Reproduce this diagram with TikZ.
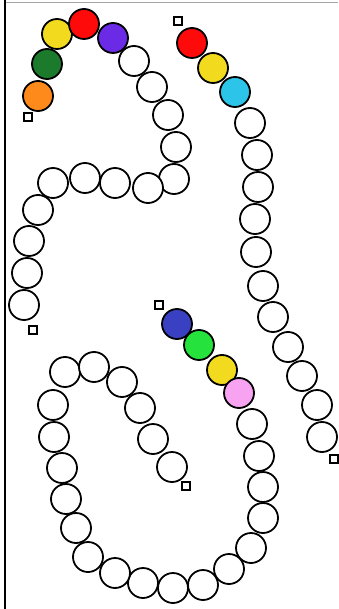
\documentclass[tikz,border=0pt]{standalone}
\definecolor{bOrange}{HTML}{FF8A1C}
\definecolor{bDkGreen}{HTML}{1B7A2B}
\definecolor{bYellow}{HTML}{F2DA1E}
\definecolor{bRed}{HTML}{FF0A0A}
\definecolor{bPurple}{HTML}{6B2BE6}
\definecolor{bCyan}{HTML}{2CC4E8}
\definecolor{bBlue}{HTML}{3A40C2}
\definecolor{bGreen}{HTML}{26E23C}
\definecolor{bPink}{HTML}{F8A2F2}
\begin{document}
\begin{tikzpicture}[x=1pt,y=-1pt,
  bead/.style={circle, draw=black, line width=1.8pt, minimum size=30pt, inner sep=0pt},
  endsq/.style={rectangle, draw=black, fill=white, line width=1.7pt, minimum size=8.5pt, inner sep=0pt}]
\useasboundingbox (0,0) rectangle (338,609);
\draw[black!35, line width=1pt] (5,2.5) -- (338,2.5);
\draw[black, line width=2pt] (5,0) -- (5,609);
% chain A
\node[endsq] (sA1) at (28,117) {};
\foreach \x/\y/\c [count=\i] in {38/96/bOrange, 47/64/bDkGreen, 57/34/bYellow, 84/24/bRed, 113/38/bPurple,
  134/61/white, 152/87/white, 168/115/white, 176/147/white, 174/179/white, 148/188/white,
  115/183/white, 85/178/white, 53/183/white, 38/210/white, 29/241/white, 27/273/white, 24/305/white}
  \node[bead, fill=\c] (a\i) at (\x,\y) {};
\node[endsq] (sA2) at (33,330) {};
% chain B
\node[endsq] (sB1) at (178,21) {};
\foreach \x/\y/\c [count=\i] in {192/43/bRed, 213/68/bYellow, 235/92/bCyan,
  250/123/white, 257/155/white, 258/187/white, 255/219/white, 256/252/white, 263/286/white,
  273/317/white, 288/347/white, 302/376/white, 317/405/white, 322/437/white}
  \node[bead, fill=\c] (b\i) at (\x,\y) {};
\node[endsq] (sB2) at (334,459) {};
% chain C
\node[endsq] (sC1) at (159,305) {};
\foreach \x/\y/\c [count=\i] in {177/324/bBlue, 199/345/bGreen, 222/370/bYellow, 239/393/bPink,
  252/424/white, 259/456/white, 263/487/white, 263/518/white, 251/548/white, 229/569/white,
  203/585/white, 173/588/white, 143/583/white, 115/573/white, 88/557/white, 76/528/white,
  66/499/white, 62/468/white, 54/437/white, 53/405/white, 65/372/white, 94/367/white,
  122/382/white, 140/408/white, 153/439/white, 172/467/white}
  \node[bead, fill=\c] (c\i) at (\x,\y) {};
\node[endsq] (sC2) at (186,486) {};
\end{tikzpicture}
\end{document}
